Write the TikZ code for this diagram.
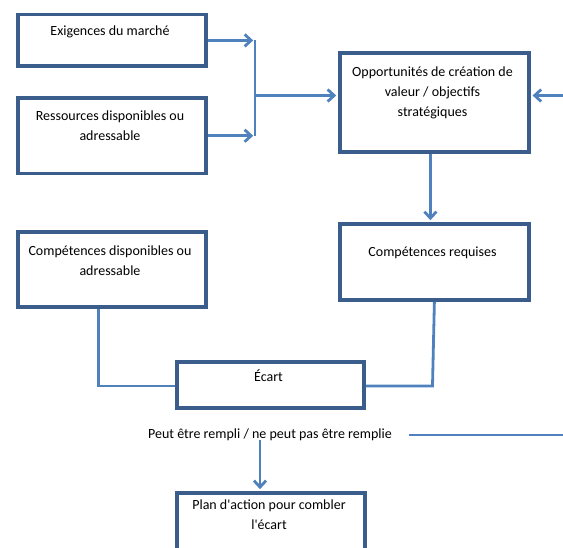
\documentclass[tikz,border=0pt]{standalone}
\usepackage{fontspec}
\setmainfont{Carlito}[Ligatures=TeXOff]
\usetikzlibrary{arrows.meta}
\definecolor{boxblue}{HTML}{3A5D8C}
\definecolor{lineblue}{HTML}{4F81BD}
\begin{document}
\begin{tikzpicture}[x=1pt,y=-1pt,
  box/.style={draw=boxblue, line width=3.8pt, inner sep=0pt, anchor=north west},
  txt/.style={align=center, font=\fontsize{14}{20}\selectfont, inner sep=0pt},
  conn/.style={draw=lineblue, line width=2.8pt},
  arr/.style={conn, shorten >=1.8pt, -{Straight Barb[length=6.5pt,width=12pt]}}]
\useasboundingbox (0,0) rectangle (563,548);
\clip (0,0) rectangle (563,548);
% boxes
\node[box, minimum width=188pt, minimum height=51.6pt] (ex) at (16,12.7) {};
\node[box, minimum width=188pt, minimum height=75.7pt] (res) at (16,96) {};
\node[box, minimum width=188pt, minimum height=75pt] (cd) at (16,230) {};
\node[box, minimum width=189pt, minimum height=99pt] (opp) at (338,51) {};
\node[box, minimum width=189pt, minimum height=76pt] (cr) at (338,222) {};
\node[box, minimum width=187pt, minimum height=46pt] (ec) at (175,360) {};
\node[box, minimum width=188pt, minimum height=80pt] (plan) at (175,491) {};
% texts
\node[txt] (tex) at (110,31.5) {Exigences du marché};
\node[txt] (tres) at (110,126) {Ressources disponibles ou\\adressable};
\node[txt] (tcd) at (110,260.7) {Compétences disponibles ou\\adressable};
\node[txt] (topp) at (432.5,93) {Opportunités de création de\\valeur / objectifs\\stratégiques};
\node[txt] (tcr) at (432.5,253) {Compétences requises};
\node[txt] (tec) at (268.5,376) {Écart};
\node[txt] (tplan) at (269,515) {Plan d'action pour combler\\l'écart};
\node[txt] (peut) at (270,435) {Peut être rempli / ne peut pas être remplie};
% connectors
\coordinate (jn) at (255,95.5);
\coordinate (rin) at (563,95.5);
\coordinate (kr) at (432.5,386);
\coordinate (kl) at (98.3,386);
\coordinate (pr) at (563,435);
\coordinate (pa) at (260,440);
\draw[conn] (ex.east -| jn) -- (res.east -| jn);
\draw[arr] (ex.east) -- (ex.east -| jn);
\draw[arr] (res.east) -- (res.east -| jn);
\draw[arr] (jn) -- (jn -| opp.west);
\draw[arr] (rin) -- (rin -| opp.east);
\draw[arr] ([xshift=-4pt]opp.south) -- ([xshift=-4pt]cr.north);
\draw[conn] (cr.south) -- (kr) -- (kr -| ec.east);
\draw[conn] (cd.south -| kl) -- (kl) -- (kl -| ec.west);
\draw[conn] ([xshift=16.7pt]peut.east |- pr) -- (pr);
\draw[arr] (pa) -- (pa |- plan.north);
\end{tikzpicture}
\end{document}
